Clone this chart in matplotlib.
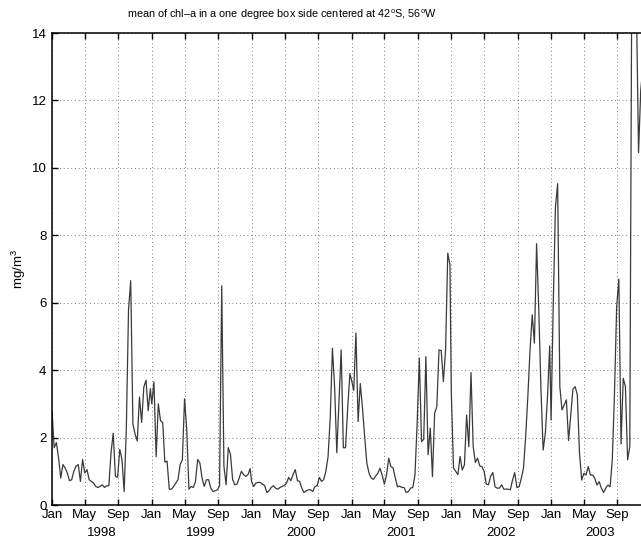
import numpy as np
import matplotlib
matplotlib.use("Agg")
import matplotlib.pyplot as plt

plt.rcParams["font.family"] = ["Liberation Sans", "DejaVu Sans"]
plt.rcParams["mathtext.fontset"] = "custom"
plt.rcParams["mathtext.rm"] = "Liberation Sans"
plt.rcParams["mathtext.it"] = "Liberation Sans:italic"

# 8-day composite means of chl-a (mg/m^3), one list per year
years = [1998, 1999, 2000, 2001, 2002, 2003]
chl_1998 = [2.8, 1.7, 1.85, 1.4, 0.8, 1.2, 1.1, 0.95, 0.72, 0.75, 1.0, 1.15, 1.2, 0.7, 1.35,
            0.95, 1.05, 0.75, 0.7, 0.65, 0.55, 0.52, 0.55, 0.6, 0.52, 0.57, 0.57, 1.55, 2.13,
            0.85, 0.82, 1.65, 1.35, 0.4, 2.3, 5.8, 6.65, 2.4, 2.1, 1.9, 3.2, 2.45, 3.5, 3.7,
            2.8, 3.45]
chl_1999 = [3.0, 3.65, 1.43, 3.0, 2.5, 2.45, 1.27, 1.3, 0.47, 0.47, 0.55, 0.65, 0.75, 1.2,
            1.35, 3.15, 2.23, 0.47, 0.55, 0.52, 0.7, 1.35, 1.25, 0.8, 0.55, 0.75, 0.75, 0.5,
            0.4, 0.42, 0.45, 0.57, 6.5, 1.15, 0.6, 1.7, 1.5, 0.75, 0.6, 0.62, 0.8, 1.0, 0.9,
            0.85, 0.9, 1.08]
chl_2000 = [0.7, 0.55, 0.65, 0.67, 0.67, 0.62, 0.58, 0.37, 0.42, 0.52, 0.57, 0.5, 0.47, 0.52,
            0.55, 0.58, 0.65, 0.82, 0.72, 0.9, 1.05, 0.72, 0.7, 0.5, 0.37, 0.42, 0.45, 0.45,
            0.4, 0.55, 0.57, 0.82, 0.7, 0.75, 1.0, 1.43, 2.6, 4.65, 3.5, 1.55, 3.1, 4.6, 1.7,
            1.7, 2.9, 3.9]
chl_2001 = [3.7, 3.4, 5.1, 2.48, 3.6, 2.87, 2.03, 1.24, 0.94, 0.8, 0.76, 0.86, 0.94, 1.09,
            0.89, 0.62, 0.89, 1.39, 1.14, 1.1, 0.8, 0.54, 0.56, 0.52, 0.52, 0.37, 0.4, 0.5,
            0.52, 0.89, 2.43, 4.36, 1.88, 1.95, 4.4, 1.49, 2.28, 0.84, 2.72, 2.92, 4.6, 4.58,
            3.66, 4.6, 7.47, 7.13]
chl_2002 = [3.32, 1.1, 1.0, 0.9, 1.44, 1.04, 1.19, 2.67, 1.73, 3.93, 1.73, 1.26, 1.39, 1.16,
            1.14, 1.0, 0.62, 0.6, 0.86, 0.96, 0.54, 0.5, 0.5, 0.6, 0.47, 0.47, 0.47, 0.45,
            0.74, 0.96, 0.52, 0.54, 0.79, 1.09, 2.03, 3.22, 4.6, 5.64, 4.8, 7.75, 5.79, 3.42,
            1.63, 2.13, 3.22, 4.72]
chl_2003 = [2.52, 6.0, 8.84, 9.53, 3.51, 2.82, 2.97, 3.12, 1.91, 2.67, 3.44, 3.51, 3.27, 1.53,
            0.74, 0.94, 0.89, 1.14, 0.89, 0.89, 0.79, 0.59, 0.69, 0.5, 0.37, 0.5, 0.59, 0.54,
            1.34, 3.32, 5.89, 6.7, 1.81, 3.76, 3.51, 1.34, 1.73, 17.0, 16.5, 15.0, 10.45,
            12.3, 13.0]
series = [chl_1998, chl_1999, chl_2000, chl_2001, chl_2002, chl_2003]
month_labels = ["Jan", "May", "Sep"]
title = "mean of chl\u2013a in a one degree box side centered at 42$^{\\rm o}$S, 56$^{\\rm o}$W"


def composite_dates(year, n):
    start = np.datetime64(f"{year}-01-01")
    return start + np.arange(n) * np.timedelta64(8, "D")


dates = np.concatenate([composite_dates(y, len(v)) for y, v in zip(years, series)])
values = np.concatenate([np.asarray(v, dtype=float) for v in series])

W, H = 641, 541
fig = plt.figure(figsize=(W / 100, H / 100), dpi=100)
ax = fig.add_axes([52 / W, 36 / H, 589 / W, 472 / H])
ax.plot(dates, values, color="#3a3a3a", lw=0.9)

ax.set_ylim(0, 14)
ax.set_xlim(np.datetime64("1998-01-01"), np.datetime64("2003-11-26"))
ax.set_yticks(np.arange(0, 15, 2))
ticks = [np.datetime64(f"{y}-{m:02d}-01") for y in years for m in (1, 5, 9)]
ax.set_xticks(ticks)
ax.set_xticklabels(month_labels * len(years))
ax.grid(True, color="#555555", linestyle=(0, (1, 3.5)), lw=0.6)
ax.tick_params(direction="in", length=4, width=1, top=True, right=False,
               labelsize=9.5, colors="black")
ax.tick_params(axis="x", pad=3)
ax.tick_params(axis="y", pad=4)
ax.spines["right"].set_visible(False)
for side in ("left", "bottom", "top"):
    ax.spines[side].set_linewidth(1.1)

for y in years:
    ax.annotate(str(y), xy=(np.datetime64(f"{y}-07-01"), 0), xycoords=("data", "axes fraction"),
                xytext=(0, -20.5), textcoords="offset points", ha="center", va="center",
                fontsize=9.5)

ax.set_ylabel("mg/m$^3$", fontsize=9.5)
ax.yaxis.set_label_coords(-24 / 589, 0.5)
fig.text(282 / W, 1 - 15 / H, title, ha="center", va="center", fontsize=7.8)

fig.savefig("out.png", dpi=100)
